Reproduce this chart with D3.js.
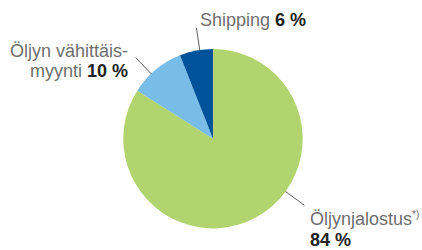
<!DOCTYPE html>
<html>
<head>
<meta charset="utf-8">
<script src="https://cdn.jsdelivr.net/npm/d3@7"></script>
<style>
  body { margin: 0; background: #fff; }
  text { font-family: "Liberation Sans", Arial, sans-serif; }
  .lbl { fill: #6e6e6e; font-weight: 300; }
  .val { fill: #222; font-weight: bold; }
</style>
</head>
<body>
<div id="chart"></div>
<script>
var svgWidth = 422;
var svgHeight = 250;

// slice data, clockwise from 12 o'clock
var names = ["Öljynjalostus", "Öljyn vähittäismyynti", "Shipping"];
var shares = [84, 10, 6];
var colors = ["#b1d46f", "#77bde8", "#00529b"];

var svg = d3.select("#chart")
  .append("svg")
  .attr("width", svgWidth)
  .attr("height", svgHeight);

var cx = 213, cy = 138.7, radius = 89.7;

var pieGroup = svg.append("g")
  .attr("transform", `translate(${cx}, ${cy})`);

var pie = d3.pie().sort(null).value(d => d);
var arcs = pie(shares);

var arc = d3.arc().innerRadius(0).outerRadius(radius);

pieGroup.selectAll("path")
  .data(arcs)
  .enter()
  .append("path")
  .attr("d", arc)
  .attr("fill", (d, i) => colors[i]);

function polar(a, r) {
  return [Math.sin(a) * r, -Math.cos(a) * r];
}
// leader lines: slice, angle offset from slice middle (or fixed angle), inner/outer radius factor
var lineDefs = [
  [arcs[0], 2.2, 1.0, 1.26],
  [arcs[1], -0.07, 1.0, 1.25],
  [arcs[2], 0.04, 1.0, 1.25]
];
lineDefs.forEach(function(l, i) {
  var mid = (l[0].startAngle + l[0].endAngle) / 2;
  var a = i === 0 ? l[1] : mid + l[1];
  var p0 = polar(a, radius * l[2]);
  var p1 = polar(a, radius * l[3]);
  pieGroup.append("line")
    .attr("x1", p0[0]).attr("y1", p0[1])
    .attr("x2", p1[0]).attr("y2", p1[1])
    .attr("stroke", "#333")
    .attr("stroke-width", 0.8);
});

var fs = 18;

// Shipping label
var t1 = svg.append("text").attr("x", 200).attr("y", 25.7).style("font-size", fs + "px");
t1.append("tspan").attr("class", "lbl").text(names[2] + " ");
t1.append("tspan").attr("class", "val").text(shares[2] + " %");

// retail label, right aligned on two lines
svg.append("text").attr("class", "lbl").attr("text-anchor", "end")
  .attr("x", 128).attr("y", 56.7).style("font-size", fs + "px")
  .text("Öljyn vähittäis-");
var t2 = svg.append("text").attr("text-anchor", "end").attr("x", 128).attr("y", 77.3).style("font-size", fs + "px");
t2.append("tspan").attr("class", "lbl").text("myynti ");
t2.append("tspan").attr("class", "val").text(shares[1] + " %");

// refining label
var t3 = svg.append("text").attr("x", 310).attr("y", 225).style("font-size", fs + "px");
t3.append("tspan").attr("class", "lbl").text(names[0]);
t3.append("tspan").attr("class", "lbl").attr("dy", -7).style("font-size", "10px").text("*)");
svg.append("text").attr("class", "val").attr("x", 310).attr("y", 245.7)
  .style("font-size", fs + "px").text(shares[0] + " %");
</script>
</body>
</html>
